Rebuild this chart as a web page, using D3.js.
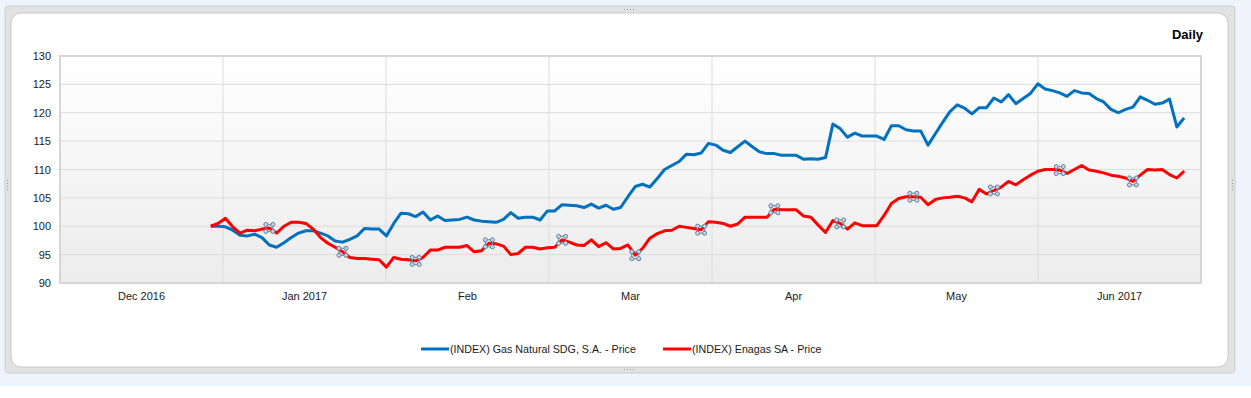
<!DOCTYPE html>
<html>
<head>
<meta charset="utf-8">
<script src="https://cdn.jsdelivr.net/npm/d3@7"></script>
<style>
  body { margin: 0; background: #ffffff; }
  text { font-family: "Liberation Sans", Arial, sans-serif; }
</style>
</head>
<body>
<div id="chart"></div>
<script>
// month labels (one band each)
var months = ["Dec 2016", "Jan 2017", "Feb", "Mar", "Apr", "May", "Jun 2017"];
var yTicks = [90, 95, 100, 105, 110, 115, 120, 125, 130];

// daily values, rebased to 100
var gasNatural = [
  100, 100, 99.9, 99.3, 98.4, 98.3, 98.6, 98.0, 96.7, 96.3,
  97.1, 98.0, 98.8, 99.2, 99.2, 98.8, 98.3, 97.4, 97.2, 97.7,
  98.3, 99.6, 99.5, 99.5, 98.3, 100.5, 102.3, 102.2, 101.7, 102.5,
  101.1, 101.8, 101.0, 101.1, 101.2, 101.6, 101.1, 100.9, 100.8, 100.7,
  101.2, 102.4, 101.4, 101.6, 101.6, 101.1, 102.7, 102.7, 103.8, 103.7,
  103.6, 103.3, 103.9, 103.2, 103.7, 103.0, 103.3, 105.2, 107.0, 107.4,
  106.9, 108.4, 110.0, 110.7, 111.4, 112.7, 112.6, 112.9, 114.6, 114.3,
  113.4, 113.0, 114.0, 115.0, 114.0, 113.1, 112.8, 112.8, 112.5, 112.5,
  112.5, 111.8, 111.9, 111.8, 112.1, 118.0, 117.2, 115.7, 116.4, 115.9,
  115.9, 115.9, 115.3, 117.7, 117.7, 117.0, 116.8, 116.8, 114.3, 116.3,
  118.3, 120.2, 121.4, 120.8, 119.8, 120.9, 120.9, 122.6, 121.9, 123.2,
  121.6, 122.5, 123.4, 125.1, 124.2, 123.9, 123.5, 122.9, 123.9, 123.5,
  123.4, 122.5, 121.9, 120.6, 120.0, 120.6, 121.0, 122.8, 122.2, 121.5,
  121.7, 122.4, 117.5, 119.1
];
var enagas = [
  100, 100.5, 101.4, 99.9, 98.8, 99.3, 99.2, 99.5, 99.7, 98.8,
  100, 100.7, 100.7, 100.5, 99.5, 98.0, 97.0, 96.3, 95.5, 94.5,
  94.3, 94.3, 94.2, 94.1, 92.8, 94.5, 94.2, 94.1, 93.9, 94.5,
  95.8, 95.8, 96.3, 96.3, 96.3, 96.6, 95.5, 95.7, 97.0, 96.9,
  96.5, 95.0, 95.2, 96.3, 96.3, 96.0, 96.2, 96.3, 97.6, 97.2,
  96.7, 96.6, 97.6, 96.4, 97.1, 96.0, 96.1, 96.7, 94.9, 96.1,
  97.9, 98.7, 99.2, 99.3, 100.0, 99.8, 99.6, 99.4, 100.8, 100.7,
  100.5, 100.0, 100.4, 101.6, 101.6, 101.6, 101.6, 103.0, 102.9, 102.9,
  102.9, 101.8, 101.6, 100.2, 98.9, 101.0, 100.5, 99.5, 100.6, 100.1,
  100.1, 100.1, 101.9, 104.0, 104.9, 105.2, 105.2, 105.1, 103.8, 104.7,
  105.0, 105.1, 105.3, 105.0, 104.3, 106.5, 105.7, 106.3, 106.9, 107.9,
  107.3, 108.2, 109.0, 109.7, 110.0, 110.0, 109.9, 109.3, 110.0, 110.7,
  109.9, 109.7, 109.4, 109.0, 108.8, 108.5, 107.9, 109.0, 110.0, 109.9,
  110.0, 109.1, 108.5, 109.7
];
// event markers on the Enagas line (day index)
var markerDays = [8, 18, 28, 38, 48, 58, 67, 77, 86, 96, 107, 116, 126];

var seriesNames = ["(INDEX) Gas Natural SDG, S.A. - Price", "(INDEX) Enagas SA - Price"];
var seriesColors = ["#0070c0", "#ff0000"];

var W = 1251, H = 398;
var margin = { top: 56, right: 50, bottom: 115, left: 60 };
var plotW = W - margin.left - margin.right;
var plotH = H - margin.top - margin.bottom;

// trading-day slots on the axis; first point sits after this many empty slots
var slotsBefore = 20.6, slotsAfter = 2.3;

var svg = d3.select("#chart").append("svg")
    .attr("width", W)
    .attr("height", H);

// page background and panel
svg.append("rect").attr("x", 0).attr("y", 0).attr("width", W).attr("height", 386).attr("fill", "#eef4fb");
svg.append("rect").attr("x", 5).attr("y", 6).attr("width", 1230).attr("height", 367)
    .attr("rx", 3).attr("fill", "#e2e2e2").attr("stroke", "#cfcfcf");
svg.append("rect").attr("x", 11).attr("y", 13).attr("width", 1217).attr("height", 354)
    .attr("rx", 10).attr("fill", "#ffffff").attr("stroke", "#c8c8c8");

// little resize grips
[[624, 9], [624, 369]].forEach(function (p) {
    for (var k = 0; k < 4; k++) {
        svg.append("rect").attr("x", p[0] + k * 3).attr("y", p[1]).attr("width", 1).attr("height", 1).attr("fill", "#999");
    }
});
[[7, 180], [1232, 180]].forEach(function (p) {
    for (var k = 0; k < 4; k++) {
        svg.append("rect").attr("x", p[0]).attr("y", p[1] + k * 3).attr("width", 1).attr("height", 1).attr("fill", "#999");
    }
});

var defs = svg.append("defs");
var grad = defs.append("linearGradient").attr("id", "plotBg").attr("x1", 0).attr("y1", 0).attr("x2", 0).attr("y2", 1);
grad.append("stop").attr("offset", "0%").attr("stop-color", "#ffffff");
grad.append("stop").attr("offset", "100%").attr("stop-color", "#ececec");

var g = svg.append("g").attr("transform", "translate(" + margin.left + "," + margin.top + ")");

var xMonth = d3.scaleBand().domain(months).range([0, plotW]);
var n = gasNatural.length;
var x = d3.scaleLinear().domain([-slotsBefore, n - 1 + slotsAfter]).range([0, plotW]);
var y = d3.scaleLinear().domain([90, 130]).range([plotH, 0]);

g.append("rect").attr("width", plotW).attr("height", plotH).attr("fill", "url(#plotBg)");

// horizontal grid
g.selectAll(".hgrid").data(yTicks).enter().append("line")
    .attr("x1", 0).attr("x2", plotW)
    .attr("y1", function (d) { return y(d); })
    .attr("y2", function (d) { return y(d); })
    .attr("stroke", "#dcdcdc").attr("stroke-width", 1);

// vertical grid at month boundaries
var bounds = months.map(function (m) { return xMonth(m); }).concat([plotW]);
g.selectAll(".vgrid").data(bounds).enter().append("line")
    .attr("x1", function (d) { return d; }).attr("x2", function (d) { return d; })
    .attr("y1", 0).attr("y2", plotH)
    .attr("stroke", "#dcdcdc").attr("stroke-width", 1);

// plot frame
g.append("rect").attr("width", plotW).attr("height", plotH)
    .attr("fill", "none").attr("stroke", "#d6d6d6").attr("stroke-width", 2);

// axes labels
var yAxis = g.append("g").call(d3.axisLeft(y).tickValues(yTicks).tickSize(0).tickPadding(9));
yAxis.select(".domain").remove();
yAxis.selectAll("text").attr("font-size", 11).attr("fill", "#1a1a1a").style("font-family", "Liberation Sans, Arial, sans-serif");

var xAxis = g.append("g").attr("transform", "translate(0," + plotH + ")")
    .call(d3.axisBottom(xMonth).tickSize(0).tickPadding(9));
xAxis.select(".domain").remove();
xAxis.selectAll("text").attr("font-size", 11).attr("fill", "#1a1a1a").style("font-family", "Liberation Sans, Arial, sans-serif");

// lines
var line = d3.line()
    .x(function (d, i) { return x(i); })
    .y(function (d) { return y(d); });

[gasNatural, enagas].forEach(function (s, k) {
    g.append("path").datum(s)
        .attr("d", line)
        .attr("fill", "none")
        .attr("stroke", seriesColors[k])
        .attr("stroke-width", 3)
        .attr("stroke-linejoin", "round");
});

// event markers
var mk = g.selectAll(".marker").data(markerDays).enter().append("g")
    .attr("transform", function (d) { return "translate(" + x(d) + "," + y(enagas[d]) + ")"; });
mk.append("rect").attr("x", -3.5).attr("y", -3.5).attr("width", 7).attr("height", 7)
    .attr("fill", "none").attr("stroke", "#6f8fae").attr("stroke-width", 1.2);
[[-3.5, -3.5], [3.5, -3.5], [-3.5, 3.5], [3.5, 3.5]].forEach(function (c) {
    mk.append("circle").attr("cx", c[0]).attr("cy", c[1]).attr("r", 2)
        .attr("fill", "#c9d8e6").attr("stroke", "#5f7f9f").attr("stroke-width", 1);
});

// title
svg.append("text").attr("x", 1203).attr("y", 39).attr("text-anchor", "end")
    .attr("font-size", 13).attr("font-weight", "bold").attr("fill", "#000").text("Daily");

// legend
var legendX = [421, 663];
seriesNames.forEach(function (name, k) {
    var lg = svg.append("g").attr("transform", "translate(" + legendX[k] + ",349)");
    lg.append("line").attr("x1", 0).attr("x2", 28).attr("y1", 0).attr("y2", 0)
        .attr("stroke", seriesColors[k]).attr("stroke-width", 3);
    lg.append("text").attr("x", 29).attr("y", 4).attr("font-size", 10.7).attr("fill", "#1a1a1a").text(name);
});
</script>
</body>
</html>
